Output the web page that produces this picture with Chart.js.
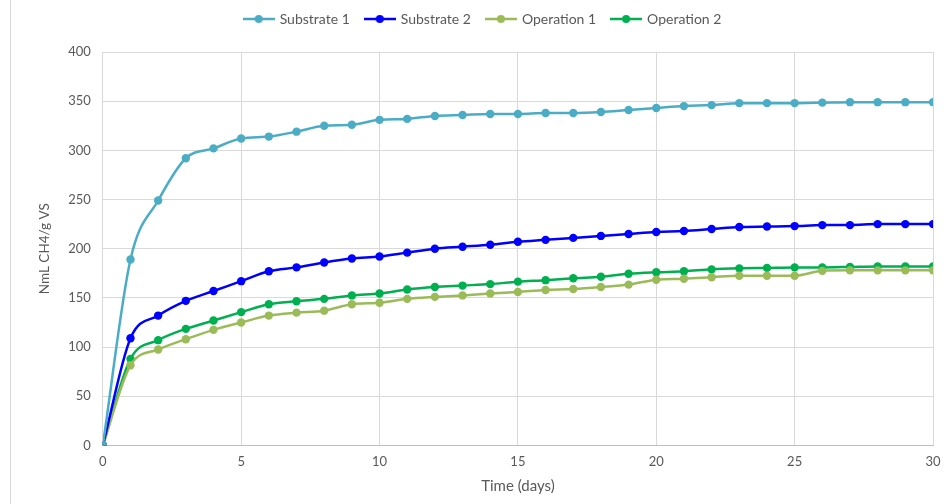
<!DOCTYPE html>
<html>
<head>
<meta charset="utf-8">
<script src="https://cdn.jsdelivr.net/npm/chart.js@4.4.0/dist/chart.umd.min.js"></script>
<style>
    html, body { margin: 0; padding: 0; background: #fff; }
    #wrap { position: relative; width: 947px; height: 504px; }
    #frame { position: absolute; left: 10px; top: 0; width: 940px; height: 504px; border-left: 1px solid #d9d9d9; }
</style>
</head>
<body>
<div id="wrap">
    <div id="frame"></div>
    <canvas id="bmp-chart" width="947" height="504"></canvas>
</div>
<script>
const days = [0, 1, 2, 3, 4, 5, 6, 7, 8, 9, 10, 11, 12, 13, 14, 15, 16, 17, 18, 19, 20, 21, 22, 23, 24, 25, 26, 27, 28, 29, 30];

const substrate1 = [0, 189, 249, 292, 302, 312, 314, 319, 325, 326, 331, 332, 335, 336, 337, 337, 338, 338, 339, 341, 343, 345, 346, 348, 348, 348, 348.5, 349, 349, 349, 349];
const substrate2 = [0, 109, 132, 147, 157, 167, 177, 181, 186, 190, 192, 196, 200, 202, 204, 207, 209, 211, 213, 215, 217, 218, 220, 222, 222.5, 223, 224, 224, 225, 225, 225];
const operation1 = [0, 81.5, 97.5, 108, 117.5, 125, 132, 135, 137, 143.5, 145, 149, 151, 152.5, 154.5, 156, 158, 159, 161, 163.5, 168.5, 169.5, 171, 172.5, 172.5, 172.5, 177.5, 178, 178, 178, 178];
const operation2 = [0, 88, 107, 118.5, 127, 135.5, 143.5, 146.5, 149, 152.5, 154.5, 158.5, 161, 162.5, 164, 166.5, 168, 170, 171.5, 174.5, 176, 177, 179, 180, 180.5, 181, 181, 181.5, 182, 182, 182];

const seriesNames = ['Substrate 1', 'Substrate 2', 'Operation 1', 'Operation 2'];
const seriesColors = ['#4bacc6', '#0000ff', '#9bbb59', '#00b050'];
const yTicks = [0, 50, 100, 150, 200, 250, 300, 350, 400];

const fontFamily = 'Lato, "Open Sans", sans-serif';
const textColor = '#595959';

// little "line with a dot" marker for the legend, like the office chart
function legendMarker(color) {
    const c = document.createElement('canvas');
    c.width = 32;
    c.height = 10;
    const ctx = c.getContext('2d');
    ctx.strokeStyle = color;
    ctx.lineWidth = 2.5;
    ctx.beginPath();
    ctx.moveTo(0, 5);
    ctx.lineTo(32, 5);
    ctx.stroke();
    ctx.fillStyle = color;
    ctx.beginPath();
    ctx.arc(16, 5, 4, 0, Math.PI * 2);
    ctx.fill();
    return c;
}

function toPoints(values) {
    return values.map((v, i) => ({ x: days[i], y: v }));
}

const allSeries = [substrate1, substrate2, operation1, operation2];

const datasets = allSeries.map((values, i) => ({
    label: seriesNames[i],
    data: toPoints(values),
    borderColor: seriesColors[i],
    backgroundColor: seriesColors[i],
    borderWidth: 2.5,
    pointRadius: 4.2,
    pointHoverRadius: 4.2,
    pointBorderWidth: 0,
    tension: 0.35,
    cubicInterpolationMode: 'monotone',
    legendMarker: legendMarker(seriesColors[i])
}));

// extra room between the legend and the plot
const legendGap = {
    id: 'legendGap',
    beforeInit(chart) {
        const fit = chart.legend.fit;
        chart.legend.fit = function () {
            fit.bind(chart.legend)();
            this.height += 16;
        };
    }
};

const chartCanvas = document.getElementById('bmp-chart');

new Chart(chartCanvas, {
    type: 'line',
    data: { datasets: datasets },
    plugins: [legendGap],
    options: {
        responsive: false,
        animation: false,
        layout: {
            padding: { left: 33, right: 14, top: -4, bottom: 5 }
        },
        plugins: {
            tooltip: { enabled: false },
            legend: {
                position: 'top',
                labels: {
                    usePointStyle: true,
                    pointStyleWidth: 28,
                    boxHeight: 10,
                    color: textColor,
                    font: { family: fontFamily, size: 14 },
                    padding: 16,
                    generateLabels: function (chart) {
                        return chart.data.datasets.map((ds, i) => ({
                            text: ds.label,
                            pointStyle: ds.legendMarker,
                            fillStyle: ds.borderColor,
                            strokeStyle: ds.borderColor,
                            fontColor: textColor,
                            lineWidth: 0,
                            hidden: false,
                            datasetIndex: i
                        }));
                    }
                }
            }
        },
        scales: {
            x: {
                type: 'linear',
                min: 0,
                max: 30,
                // the "30" label may run into the right margin, as in the original
                afterFit: function (axis) {
                    axis.paddingRight = 0;
                },
                ticks: {
                    stepSize: 5,
                    color: textColor,
                    font: { family: fontFamily, size: 13 },
                    padding: 9
                },
                grid: {
                    color: '#d9d9d9',
                    drawTicks: false
                },
                border: { color: '#bfbfbf' },
                title: {
                    display: true,
                    text: 'Time (days)',
                    color: textColor,
                    font: { family: fontFamily, size: 15 },
                    padding: { top: -2 }
                }
            },
            y: {
                min: 0,
                max: 400,
                afterBuildTicks: function (axis) {
                    axis.ticks = yTicks.map(v => ({ value: v }));
                },
                ticks: {
                    color: textColor,
                    font: { family: fontFamily, size: 13 },
                    padding: 12
                },
                grid: {
                    color: '#d9d9d9',
                    drawTicks: false
                },
                border: { color: '#d9d9d9' },
                title: {
                    display: true,
                    text: 'NmL CH4/g VS',
                    color: textColor,
                    font: { family: fontFamily, size: 13.5 },
                    padding: { bottom: 3 }
                }
            }
        }
    }
});
</script>
</body>
</html>
